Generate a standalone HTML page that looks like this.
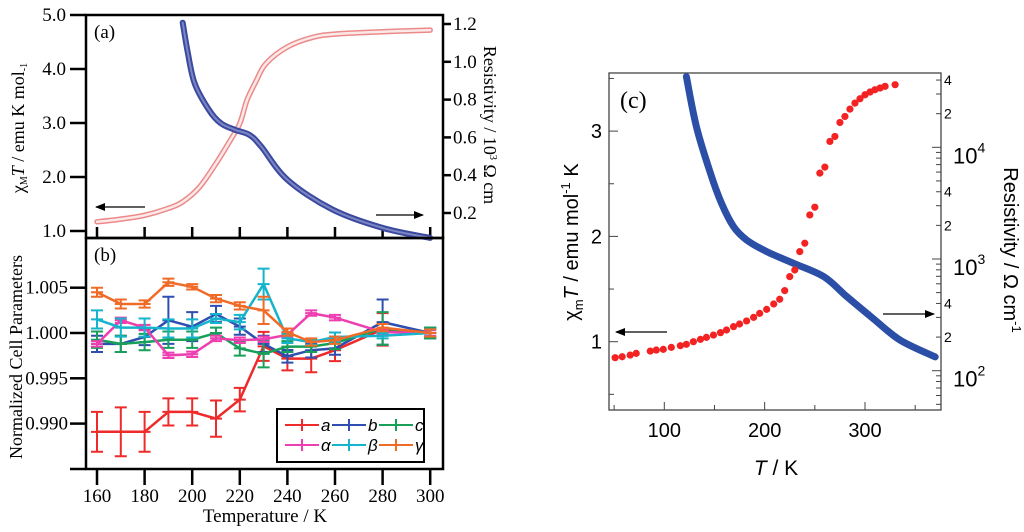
<!DOCTYPE html>
<html><head><meta charset="utf-8">
<style>
html,body{margin:0;padding:0;background:#fff;}
svg{display:block;}
.serif{font-family:"Liberation Serif",serif;}
.sans{font-family:"Liberation Sans",sans-serif;}
</style></head>
<body>
<svg id="fig" width="1024" height="532" viewBox="0 0 1024 532" xmlns="http://www.w3.org/2000/svg">
<defs>
<marker id="ah" markerWidth="10" markerHeight="8" refX="9" refY="4" orient="auto" markerUnits="userSpaceOnUse"><path d="M0,0 L10,4 L0,8 Z" fill="#000"/></marker>
</defs>
<g id="pa"></g>
<g id="pb"></g>
<g id="pc"></g>
</svg>
<script>
// ---------- Panel (a) data ----------
const aChiT = [160,170,180,190,196,203,210,216,220,223,227,231,240,251,261,280,300];
const aChiV = [1.17,1.22,1.29,1.42,1.54,1.81,2.25,2.68,2.99,3.42,3.79,4.1,4.41,4.59,4.65,4.69,4.72];
const aResT = [196,198,201,207,212,218,224,229,240,259,280,300];
const aResV = [1.207,1.06,0.887,0.746,0.675,0.64,0.614,0.552,0.376,0.218,0.121,0.068];
const aLeftTicks = [1.0,2.0,3.0,4.0,5.0];
const aRightTicks = [0.2,0.4,0.6,0.8,1.0,1.2];
// ---------- Panel (b) data ----------
const bTemps = [160,170,180,190,200,210,220,230,240,250,260,280,300];
const bA = [0.98909,0.98909,0.98909,0.99129,0.99129,0.99055,0.99265,0.99853,0.99717,0.99717,0.9981,1.0004,1.0];
const bAerr = [0.0022,0.0027,0.0022,0.0015,0.0015,0.002,0.0013,0.0016,0.0013,0.0015,0.0012,0.0018,0.0005];
const bB = [0.9988,0.9988,0.99956,1.0014,1.0007,1.0021,1.0007,0.9988,0.99743,0.9981,0.9983,1.0012,1.0];
const bBerr = [0.0009,0.0009,0.0009,0.0026,0.0016,0.0009,0.0009,0.0009,0.0007,0.0008,0.0007,0.0025,0.0006];
const bC = [0.99926,0.9988,0.999,0.99926,0.99926,1.0,0.9983,0.9977,0.9985,0.9985,0.9989,1.0005,1.0];
const bCerr = [0.0009,0.0009,0.0009,0.0009,0.0009,0.0006,0.0008,0.0015,0.0006,0.0006,0.0007,0.0018,0.0006];
const bAl = [0.9988,1.0014,1.0006,0.99754,0.99765,0.9994,0.9992,0.9993,0.9998,1.0022,1.0017,1.0001,1.0];
const bAlerr = [0.0003,0.0003,0.0003,0.0003,0.0003,0.0003,0.0003,0.0003,0.0003,0.0003,0.0003,0.0003,0.0003];
const bBe = [1.0015,1.0006,1.0006,1.0005,1.0005,1.0016,1.0012,1.0054,0.9994,0.999,0.99956,0.9997,1.0];
const bBeerr = [0.001,0.001,0.001,0.001,0.001,0.0005,0.0008,0.0017,0.0005,0.0003,0.0005,0.0003,0.0004];
const bGa = [1.0045,1.0032,1.0032,1.0056,1.0051,1.0038,1.003,1.0025,1.0001,0.999,0.9992,1.0006,1.0];
const bGaerr = [0.0005,0.0005,0.0004,0.0004,0.0003,0.0004,0.0004,0.0015,0.0004,0.0004,0.0004,0.0004,0.0004];
const bTicksY = [0.990,0.995,1.000,1.005];
const bTicksX = [160,180,200,220,240,260,280,300];
// ---------- Panel (c) data ----------
const cChiT = [51,58,66,72,86,92,99,107,116,122,129,136,142,149,156,162,169,175,182,189,195,202,209,215,220,225,230,235,240,245,250,255,260,265,270,275,280,285,290,295,300,305,310,315,320,330];
const cChiV = [0.848,0.857,0.873,0.889,0.911,0.921,0.927,0.946,0.962,0.975,1.0,1.022,1.041,1.063,1.086,1.111,1.143,1.168,1.197,1.231,1.269,1.307,1.358,1.403,1.485,1.618,1.681,1.856,1.935,2.204,2.277,2.601,2.658,2.902,2.949,3.082,3.139,3.209,3.266,3.307,3.345,3.371,3.393,3.409,3.425,3.441];
const cResT = [122,132,146,157,169,182,202,229,259,282,308,335,370];
const cResV = [42950,15310,5850,3155,1950,1480,1164,914,695,460,294,188,133];
const cTicksX = [100,200,300];
const cTicksY = [1,2,3];
const cTicksR = [100,1000,10000];

const NS = "http://www.w3.org/2000/svg";
function mk(parent, tag, attrs, text){
  const e = document.createElementNS(NS, tag);
  for (const k in attrs) e.setAttribute(k, attrs[k]);
  if (text !== undefined) e.textContent = text;
  parent.appendChild(e);
  return e;
}
function smooth(pts){
  if (pts.length < 2) return "";
  let d = "M" + pts[0][0].toFixed(1) + "," + pts[0][1].toFixed(1);
  for (let i = 0; i < pts.length - 1; i++){
    const p0 = pts[i-1] || pts[i], p1 = pts[i], p2 = pts[i+1], p3 = pts[i+2] || p2;
    const c1x = p1[0] + (p2[0]-p0[0])/6, c1y = p1[1] + (p2[1]-p0[1])/6;
    const c2x = p2[0] - (p3[0]-p1[0])/6, c2y = p2[1] - (p3[1]-p1[1])/6;
    d += " C" + c1x.toFixed(1)+","+c1y.toFixed(1)+" "+c2x.toFixed(1)+","+c2y.toFixed(1)+" "+p2[0].toFixed(1)+","+p2[1].toFixed(1);
  }
  return d;
}

// ================= PANEL A =================
const pa = document.getElementById('pa');
const xA = T => 97 + (T-160)*2.38;
const yAL = v => 231 - (v-1)*54;
const yAR = r => 213 - (r-0.2)*189;

let e;
e = mk(pa,'rect',{x:86,y:15,width:357,height:223,fill:'none',stroke:'#000','stroke-width':2.5});


aLeftTicks.forEach(v=>{
  e = mk(pa,'line',{x1:70,x2:86,y1:yAL(v),y2:yAL(v),stroke:'#000','stroke-width':2.5});
  
  
  e = mk(pa,'text',{x:66,y:yAL(v)+6,'text-anchor':'end','font-size':19,class:'serif'},v.toFixed(1));
  
  
});
aRightTicks.forEach(v=>{
  e = mk(pa,'line',{x1:443,x2:451,y1:yAR(v),y2:yAR(v),stroke:'#000','stroke-width':2.5});
  
  
  e = mk(pa,'text',{x:453,y:yAR(v)+6,'font-size':19,class:'serif'},v.toFixed(1));
  
  
});
bTicksX.forEach(T=>{
  e = mk(pa,'line',{x1:xA(T),x2:xA(T),y1:227,y2:238,stroke:'#000','stroke-width':2.5});
  
  
});
e = mk(pa,'text',{x:94,y:38,'font-size':19,class:'serif'},'(a)');


e = mk(pa,'text',{transform:'translate(24,128) rotate(-90)','text-anchor':'middle','font-size':18,class:'serif'});


e.innerHTML = 'χ<tspan font-size="10" dy="3">M</tspan><tspan dy="-3" font-style="italic">T</tspan> / emu K mol<tspan font-size="10" dy="3">-1</tspan>';
e = mk(pa,'text',{transform:'translate(484,125) rotate(90)','text-anchor':'middle','font-size':18,class:'serif'});


e.innerHTML = 'Resistivity / 10<tspan font-size="10" dy="-6">3</tspan><tspan dy="6"> Ω cm</tspan>';
const chiPts = aChiT.map((T,i)=>[xA(T), yAL(aChiV[i])]);
e = mk(pa,'path',{d:smooth(chiPts),fill:'none',stroke:'#ec8a8a','stroke-width':5.5,'stroke-linecap':'round'});


e = mk(pa,'path',{d:smooth(chiPts),fill:'none',stroke:'#fde8e8','stroke-width':2.5,'stroke-linecap':'round'});


const resPts = aResT.map((T,i)=>[xA(T), yAR(aResV[i])]);
e = mk(pa,'path',{d:smooth(resPts),fill:'none',stroke:'#3b4a9e','stroke-width':6,'stroke-linecap':'round'});


e = mk(pa,'path',{d:smooth(resPts),fill:'none',stroke:'#7d86c4','stroke-width':2,'stroke-linecap':'round'});


e = mk(pa,'line',{x1:145,y1:207,x2:96,y2:207,stroke:'#000','stroke-width':1.3,'marker-end':'url(#ah)'});


e = mk(pa,'line',{x1:376,y1:215,x2:423,y2:215,stroke:'#000','stroke-width':1.3,'marker-end':'url(#ah)'});



// ================= PANEL B =================
const pb = document.getElementById('pb');
const xB = xA;
const yB = v => 333 - (v-1)/0.005*45.3;
e = mk(pb,'rect',{x:86,y:238,width:357,height:231,fill:'none',stroke:'#000','stroke-width':2.5});


e = mk(pb,'line',{x1:70,x2:86,y1:469,y2:469,stroke:'#000','stroke-width':2.5});


bTicksY.forEach(v=>{
  e = mk(pb,'line',{x1:70,x2:86,y1:yB(v),y2:yB(v),stroke:'#000','stroke-width':2.5});
  
  
  e = mk(pb,'text',{x:68,y:yB(v)+6,'text-anchor':'end','font-size':19,class:'serif'},v.toFixed(3));
  
  
});
bTicksX.forEach(T=>{
  e = mk(pb,'line',{x1:xB(T),x2:xB(T),y1:469,y2:485,stroke:'#000','stroke-width':2.5});
  
  
  e = mk(pb,'text',{x:xB(T),y:502,'text-anchor':'middle','font-size':19,class:'serif'},String(T));
  
  
});
e = mk(pb,'text',{x:265,y:522,'text-anchor':'middle','font-size':19,class:'serif'},'Temperature / K');


e = mk(pb,'text',{transform:'translate(22,357) rotate(-90)','text-anchor':'middle','font-size':18,class:'serif'},'Normalized Cell Parameters');


e = mk(pb,'text',{x:94,y:261,'font-size':19,class:'serif'},'(b)');



const bSeries = [
  {name:'a', vals:bA, err:bAerr, color:'#ee2a2a'},
  {name:'b', vals:bB, err:bBerr, color:'#2f4fb0'},
  {name:'c', vals:bC, err:bCerr, color:'#18a05a'},
  {name:'alpha', vals:bAl, err:bAlerr, color:'#ee3fb0'},
  {name:'beta', vals:bBe, err:bBeerr, color:'#14b5cc'},
  {name:'gamma', vals:bGa, err:bGaerr, color:'#f06a28'}
];
bSeries.forEach(s=>{
  const g = mk(pb,'g',{});
  
  
  const pts = bTemps.map((T,i)=>xB(T).toFixed(1)+','+yB(s.vals[i]).toFixed(1)).join(' ');
  e = mk(g,'polyline',{points:pts,fill:'none',stroke:s.color,'stroke-width':2.5});
  
  
  bTemps.forEach((T,i)=>{
    const x = xB(T), y1 = yB(s.vals[i]+s.err[i]), y2 = yB(s.vals[i]-s.err[i]);
    e = mk(g,'path',{d:`M${x},${y1}V${y2}M${x-6},${y1}H${x+6}M${x-6},${y2}H${x+6}M${x-6},${yB(s.vals[i])}H${x+6}`,stroke:s.color,'stroke-width':2,fill:'none'});
    
    
  });
});
const lg = mk(pb,'g',{});


e = mk(lg,'rect',{x:277,y:409,width:147,height:53,fill:'#fff',stroke:'#000','stroke-width':2});


const legLabels = ['a','b','c','α','β','γ'];
bSeries.forEach((s,i)=>{
  const col = i%3, row = Math.floor(i/3);
  const x0 = 285 + col*47, y0 = 425 + row*20;
  e = mk(lg,'path',{d:`M${x0},${y0}H${x0+34}M${x0+17},${y0-6}V${y0+6}`,stroke:s.color,'stroke-width':2,fill:'none'});
  
  
  e = mk(lg,'text',{x:x0+36,y:y0+6,'font-size':17,'font-style':'italic',class:'sans'},legLabels[i]);
  
  
});

// ================= PANEL C =================
const pc = document.getElementById('pc');
const xC = T => 664.3 + (T-100)*1.0035;
const yCL = v => 341.7 - (v-1)*105.3;
const yCR = r => 370.7 - (Math.log10(r)-2)*111.7;
e = mk(pc,'rect',{x:609,y:73,width:332,height:337,fill:'none',stroke:'#444','stroke-width':1.3});


for (let T=50; T<=370; T+=50){
  const maj = T%100===0;
  e = mk(pc,'line',{x1:xC(T),x2:xC(T),y1:410,y2:maj?402:405,stroke:'#444','stroke-width':1});
  
  
}
cTicksX.forEach(T=>{
  e = mk(pc,'text',{x:xC(T),y:437,'text-anchor':'middle','font-size':20,class:'sans'},String(T));
  
  
});
for (let v=0.5; v<=3.5; v+=0.5){
  const maj = Math.abs(v-Math.round(v))<1e-6;
  e = mk(pc,'line',{x1:609,x2:maj?618:614,y1:yCL(v),y2:yCL(v),stroke:'#444','stroke-width':1});
  
  
}
cTicksY.forEach(v=>{
  e = mk(pc,'text',{x:602,y:yCL(v)+7,'text-anchor':'end','font-size':20,class:'sans'},String(v));
  
  
});
for (let dec=1; dec<=4; dec++){
  for (let m=1; m<=9; m++){
    const r = m*Math.pow(10,dec);
    const y = yCR(r);
    if (y<73 || y>410) continue;
    e = mk(pc,'line',{x1:941,x2:m===1?932:936,y1:y,y2:y,stroke:'#444','stroke-width':1});
    
    
    if ((m===2||m===4) && dec>=2){
      e = mk(pc,'text',{x:944,y:y+5,'font-size':14,class:'sans'},String(m));
      
      
    }
  }
}
cTicksR.forEach(r=>{
  e = mk(pc,'text',{x:953,y:yCR(r)+16,'font-size':22,class:'sans'});
  
  
  e.innerHTML = '10<tspan font-size="14" dy="-11">'+Math.round(Math.log10(r))+'</tspan>';
});
e = mk(pc,'text',{x:776,y:475,'text-anchor':'middle','font-size':21,class:'sans'});


e.innerHTML = '<tspan font-style="italic">T</tspan> / K';
e = mk(pc,'text',{transform:'translate(578,242) rotate(-90)','text-anchor':'middle','font-size':20,class:'sans'});


e.innerHTML = 'χ<tspan font-size="13" dy="5">m</tspan><tspan dy="-5" font-style="italic">T</tspan> / emu mol<tspan font-size="13" dy="-8">-1</tspan><tspan dy="8"> K</tspan>';
e = mk(pc,'text',{transform:'translate(1004,250) rotate(90)','text-anchor':'middle','font-size':20,class:'sans'});


e.innerHTML = 'Resistivity / Ω cm<tspan font-size="13" dy="-8">-1</tspan>';
e = mk(pc,'text',{x:620,y:108,'font-size':24,class:'serif'},'(c)');


const cResPts = cResT.map((T,i)=>[xC(T), yCR(cResV[i])]);
e = mk(pc,'path',{d:smooth(cResPts),fill:'none',stroke:'#2b4fa6','stroke-width':7,'stroke-linecap':'round'});


cChiT.forEach((T,i)=>{
  e = mk(pc,'circle',{cx:xC(T),cy:yCL(cChiV[i]),r:3.6,fill:'#f42323'});
  
  
});
e = mk(pc,'line',{x1:667,y1:332,x2:616,y2:332,stroke:'#000','stroke-width':1.2,'marker-end':'url(#ah)'});


e = mk(pc,'line',{x1:883,y1:314,x2:934,y2:314,stroke:'#000','stroke-width':1.2,'marker-end':'url(#ah)'});


</script>
</body></html>
